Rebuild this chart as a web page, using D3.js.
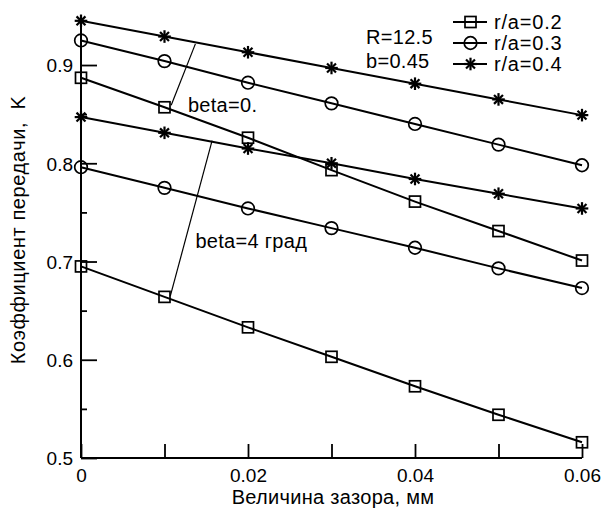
<!DOCTYPE html>
<html><head><meta charset="utf-8">
<script src="https://cdn.jsdelivr.net/npm/d3@7"></script>
<style>
html,body{margin:0;padding:0;background:#fff;}
svg text{font-family:"Liberation Sans",Arial,sans-serif;fill:#000;}
</style></head>
<body><svg id="c" width="602" height="516"></svg>
<script>
const gaps = [0, 0.01, 0.02, 0.03, 0.04, 0.05, 0.06];
const seriesNames = ["r/a=0.2", "r/a=0.3", "r/a=0.4"];
const markers = ["square", "circle", "star"];
// beta = 0
const beta0_ra02 = [0.887, 0.857, 0.826, 0.793, 0.761, 0.731, 0.701];
const beta0_ra03 = [0.925, 0.904, 0.882, 0.861, 0.840, 0.819, 0.798];
const beta0_ra04 = [0.945, 0.929, 0.913, 0.897, 0.881, 0.865, 0.849];
// beta = 4 deg
const beta4_ra02 = [0.695, 0.664, 0.633, 0.603, 0.573, 0.544, 0.516];
const beta4_ra03 = [0.796, 0.775, 0.754, 0.734, 0.714, 0.693, 0.673];
const beta4_ra04 = [0.847, 0.831, 0.815, 0.800, 0.784, 0.769, 0.754];
const xTickValues = [0, 0.01, 0.02, 0.03, 0.04, 0.05, 0.06];
const xTickLabels = ["0", "", "0.02", "", "0.04", "", "0.06"];
const yMajorTicks = [0.5, 0.6, 0.7, 0.8, 0.9];
const yMajorLabels = ["0.5", "0.6", "0.7", "0.8", "0.9"];
const yMinorTicks = [0.55, 0.65, 0.75, 0.85];
const annotations = [
  {text: "beta=0.", at: [0.0128, 0.852], line: [[0.0108, 0.8590], [0.0137, 0.9215]]},
  {text: "beta=4 град", at: [0.0137, 0.714], line: [[0.0107, 0.6650], [0.0157, 0.8230]]}
];
const paramText = ["R=12.5", "b=0.45"];

const svg = d3.select("#c");
const x = d3.scaleLinear().domain([0, 0.06]).range([81, 582]);
const y = d3.scaleLinear().domain([0.5, 0.95]).range([458, 15.9]);
const FONT = "Liberation Sans, Arial, sans-serif";

// axes
const gx = svg.append("g").attr("transform", "translate(0,458)")
  .call(d3.axisBottom(x).tickValues(xTickValues).tickSize(-14).tickPadding(0)
    .tickFormat((d,i) => xTickLabels[i]));
const gyMinor = svg.append("g").attr("transform", "translate(81,0)")
  .call(d3.axisLeft(y).tickValues(yMinorTicks).tickSize(-6).tickFormat(""));
const gy = svg.append("g").attr("transform", "translate(81,0)")
  .call(d3.axisLeft(y).tickValues(yMajorTicks).tickSize(-16).tickPadding(8)
    .tickFormat((d,i) => yMajorLabels[i]));
gyMinor.select(".domain").remove();
[gx, gy].forEach(g => {
  g.select(".domain").attr("stroke", "#000").attr("stroke-width", 2);
  g.selectAll(".tick line").attr("stroke", "#000").attr("stroke-width", 1.8);
  g.selectAll("text").attr("font-size", 19).style("font-family", FONT).attr("fill", "#000");
});
gy.select(".domain").attr("d", "M0,458V15.9");
gx.select(".domain").attr("d", "M81,0H582");
gyMinor.selectAll(".tick line").attr("stroke", "#000").attr("stroke-width", 1.8);
gy.selectAll("text").attr("dy", "0.36em");
gx.selectAll("text").attr("y", 24).attr("dy", null);

// axis titles
svg.append("text").attr("x", 333).attr("y", 504).attr("text-anchor", "middle")
  .attr("font-size", 20).attr("letter-spacing", 0.3).text("Величина зазора, мм");
svg.append("text").attr("transform", "translate(25,230) rotate(-90)").attr("text-anchor", "middle")
  .attr("font-size", 20).attr("letter-spacing", 0.6).attr("xml:space", "preserve")
  .text("Коэффициент передачи,  K");

// series
const line = d3.line().x((d,i) => x(gaps[i])).y(d => y(d));
const all = [
  {vals: beta0_ra02, m: 0}, {vals: beta0_ra03, m: 1}, {vals: beta0_ra04, m: 2},
  {vals: beta4_ra02, m: 0}, {vals: beta4_ra03, m: 1}, {vals: beta4_ra04, m: 2}
];
function drawMarker(g, type, cx, cy) {
  if (type === "square") {
    g.append("rect").attr("x", cx-5.5).attr("y", cy-5.5).attr("width", 11).attr("height", 11)
      .attr("fill", "none").attr("stroke", "#000").attr("stroke-width", 1.7);
  } else if (type === "circle") {
    g.append("circle").attr("cx", cx).attr("cy", cy).attr("r", 6.3)
      .attr("fill", "none").attr("stroke", "#000").attr("stroke-width", 1.7);
  } else {
    const r = 6.3;
    for (let k = 0; k < 4; k++) {
      const a = k * Math.PI / 4;
      g.append("line").attr("x1", cx - r*Math.cos(a)).attr("y1", cy - r*Math.sin(a))
        .attr("x2", cx + r*Math.cos(a)).attr("y2", cy + r*Math.sin(a))
        .attr("stroke", "#000").attr("stroke-width", 2.2);
    }
  }
}
all.forEach(s => {
  svg.append("path").datum(s.vals).attr("d", line).attr("fill", "none")
    .attr("stroke", "#000").attr("stroke-width", 2);
  const g = svg.append("g");
  s.vals.forEach((v, i) => drawMarker(g, markers[s.m], x(gaps[i]), y(v)));
});

// annotations
annotations.forEach(a => {
  svg.append("line").attr("x1", x(a.line[0][0])).attr("y1", y(a.line[0][1]))
    .attr("x2", x(a.line[1][0])).attr("y2", y(a.line[1][1]))
    .attr("stroke", "#000").attr("stroke-width", 1.2);
  svg.append("text").attr("x", x(a.at[0])).attr("y", y(a.at[1])).attr("font-size", 20)
    .attr("letter-spacing", 0.3).text(a.text);
});

// parameters
paramText.forEach((t, i) => {
  svg.append("text").attr("x", 366).attr("y", 44 + i*23.5).attr("font-size", 20)
    .attr("letter-spacing", 0.3).text(t);
});

// legend
seriesNames.forEach((n, i) => {
  const ly = 22 + i*21;
  svg.append("line").attr("x1", 453).attr("x2", 487).attr("y1", ly).attr("y2", ly)
    .attr("stroke", "#000").attr("stroke-width", 2);
  drawMarker(svg.append("g"), markers[i], 470.5, ly);
  svg.append("text").attr("x", 494).attr("y", ly + 6.5).attr("font-size", 20)
    .attr("letter-spacing", 0.8).text(n);
});
</script></body></html>
